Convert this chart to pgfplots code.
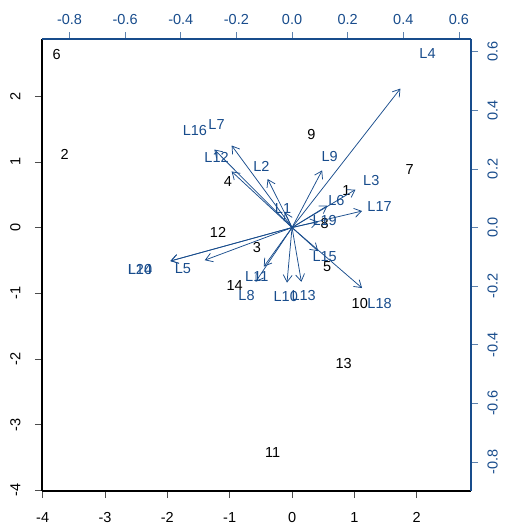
\documentclass[border=0pt]{standalone}
\usepackage{fontspec}
\setmainfont{Liberation Sans}
\usepackage{pgfplots}
\pgfplotsset{compat=1.18}
\usepackage{pgfplotstable}
\usetikzlibrary{arrows.meta}
\definecolor{lblue}{RGB}{24,76,140}

\pgfplotstableread{
name x y
1 0.873 0.560
2 -3.647 1.106
3 -0.562 -0.297
4 -1.027 0.697
5 0.562 -0.587
6 -3.775 2.635
7 1.888 0.891
8 0.525 0.061
9 0.311 1.411
10 1.086 -1.153
11 -0.310 -3.420
12 -1.187 -0.067
13 0.829 -2.075
14 -0.919 -0.882
}\scores

\pgfplotstableread{
name x y
L1 -0.0323 0.0650
L2 -0.1098 0.2073
L3 0.2850 0.1618
L4 0.4871 0.5929
L5 -0.3923 -0.1392
L6 0.1594 0.0934
L7 -0.2714 0.3500
L8 -0.1637 -0.2316
L9 0.1353 0.2439
L10 -0.0226 -0.2350
L11 -0.1267 -0.1666
L12 -0.2714 0.2395
L13 0.0420 -0.2316
L14 -0.5467 -0.1427
L15 0.1174 -0.1006
L16 -0.3492 0.3329
L17 0.3148 0.0705
L18 0.3148 -0.2580
L19 0.1174 0.0250
L20 -0.5467 -0.1427
}\loads

\begin{document}
\begin{tikzpicture}
\pgfplotsset{every axis/.append style={
  font=\fontsize{14.5}{17}\selectfont,
  scale only axis, width=429pt, height=452pt,
  /pgf/number format/assume math mode=true,
  major tick length=7pt, tick align=outside,
  clip=false}}
\begin{axis}[name=main,
  xmin=-4.01, xmax=2.87, ymin=-4.01, ymax=2.87,
  axis lines*=left,
  axis line style={line width=1.2pt, black},
  tick style={line width=0.6pt, black!70},
  xtick={-4,-3,-2,-1,0,1,2}, ytick={-4,-3,-2,-1,0,1,2},
  xticklabel shift=11pt, yticklabel shift=11pt,
  xticklabel style={text=black},
  yticklabel style={rotate=90, anchor=south, text=black},
]
\addplot[only marks, mark=none, nodes near coords, point meta=explicit symbolic,
  every node near coord/.append style={anchor=center, text=black, inner sep=0pt,
    font=\fontsize{14.5}{17}\selectfont}]
  table[x=x, y=y, meta=name]{\scores};
\end{axis}
\begin{axis}[
  xmin=-0.899, xmax=0.6435, ymin=-0.899, ymax=0.6435,
  axis x line*=top, axis y line*=right,
  axis line style={line width=1.2pt, lblue},
  tick style={line width=0.6pt, lblue!70},
  xtick={-0.8,-0.6,-0.4,-0.2,0,0.2,0.4,0.6},
  ytick={-0.8,-0.6,-0.4,-0.2,0,0.2,0.4,0.6},
  xticklabel shift=4pt, yticklabel shift=6pt,
  xticklabel style={text=lblue, /pgf/number format/.cd, fixed, fixed zerofill, precision=1},
  yticklabel style={rotate=90, anchor=north, text=lblue, /pgf/number format/.cd, fixed, fixed zerofill, precision=1},
]
\addplot[lblue, line width=0.75pt, -{Straight Barb[length=7pt,width=9pt]},
  quiver={u=\thisrow{x}*0.8, v=\thisrow{y}*0.8}]
  table[x expr=0, y expr=0]{\loads};
\addplot[only marks, mark=none, nodes near coords, point meta=explicit symbolic,
  every node near coord/.append style={anchor=center, text=lblue, inner sep=0pt,
    font=\fontsize{14.5}{17}\selectfont}]
  table[x=x, y=y, meta=name]{\loads};
\end{axis}
\pgfresetboundingbox
\path ([xshift=-42pt,yshift=-35pt]main.south west) rectangle ([xshift=34pt,yshift=39pt]main.north east);
\end{tikzpicture}
\end{document}
